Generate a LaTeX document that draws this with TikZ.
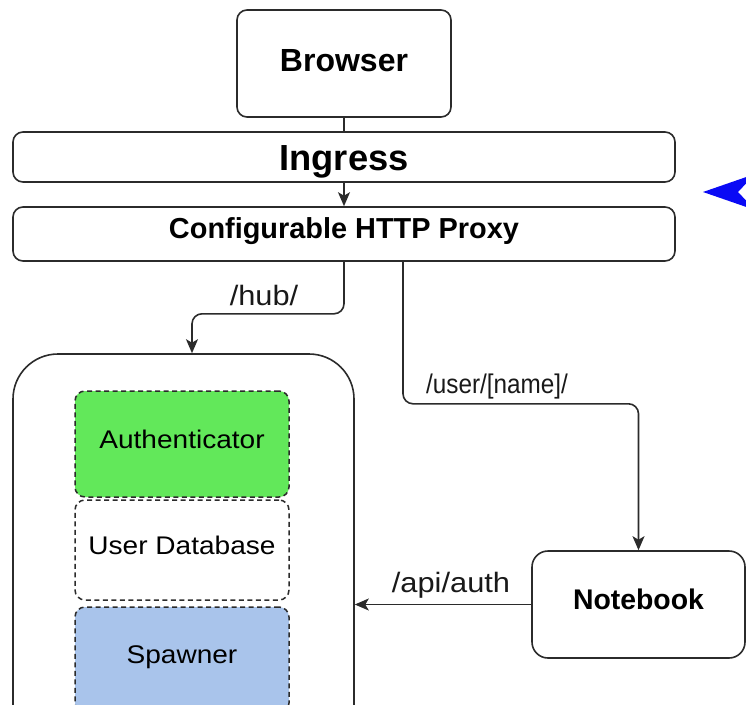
\documentclass[tikz,border=0pt]{standalone}
\usepackage{fontspec}
\setmainfont{Liberation Sans}[FakeStretch=1.1]
\newfontfamily\boldsans{Liberation Sans}[FakeStretch=1.0]
\newfontfamily\labelsans{Liberation Sans}[FakeStretch=0.9]
\usetikzlibrary{arrows.meta,calc}
\definecolor{authgreen}{HTML}{62E85A}
\definecolor{spawnblue}{HTML}{A9C4EB}
\definecolor{edgegray}{HTML}{2B2B2B}
\definecolor{arrowblue}{HTML}{0A0AF5}
\tikzset{
  box/.style={draw=edgegray, line width=1.6pt, rounded corners=10pt, align=center, inner sep=0pt},
  bigtext/.style={font=\boldsans\bfseries\fontsize{#1}{#1}\selectfont},
  inner/.style={draw=edgegray, line width=1.5pt, dash pattern=on 5pt off 3.5pt, rounded corners=10pt,
     minimum width=214pt, align=center, inner sep=0pt, font=\fontsize{25.5}{30}\selectfont,
     text height=18.3pt},
  conn/.style={draw=edgegray, line width=1.6pt, rounded corners=10pt},
  arr/.style={-{Stealth[length=14pt,width=12pt,inset=3.5pt]}},
  lbl/.style={inner sep=0pt, anchor=base, font=\fontsize{28}{33}\selectfont, text=black!90},
}
\begin{document}
\begin{tikzpicture}[x=1pt,y=-1pt]
\useasboundingbox (0,0) rectangle (746,704);
\clip (0,0) rectangle (746,704);
% nodes
\node[box, minimum width=214pt, minimum height=107pt, bigtext=32, text height=22.9pt, text depth=7pt] (browser) at (344,63.5) {Browser};
\node[box, minimum width=662pt, minimum height=50pt, bigtext=36.3, text height=26pt, text depth=0pt] (ingress) at (344,157) {Ingress};
\node[box, minimum width=662pt, minimum height=54pt, bigtext=28.9, text height=20.7pt, text depth=12pt] (proxy) at (344,234) {Configurable HTTP Proxy};
\node[box, rounded corners=45pt, minimum width=341pt, minimum height=420pt] (hub) at (183.5,564) {};
\node[inner, fill=authgreen, minimum height=106pt, text depth=10pt] (auth) at (182,444) {Authenticator};
\node[inner, fill=white, minimum height=100pt, text depth=10pt] (userdb) at (182,550) {User Database};
\node[inner, fill=spawnblue, minimum height=106pt, text depth=12pt] (spawner) at (182,660) {Spawner};
\node[box, rounded corners=16pt, minimum width=213pt, minimum height=107pt, bigtext=28.4, text height=20.3pt, text depth=10pt] (notebook) at (638.5,604.5) {Notebook};
% helper coordinates
\coordinate (hubx) at (192,0);
\coordinate (userx) at (403,0);
% connectors
\draw[conn] (browser.south) -- (ingress.north);
\draw[conn, arr] (ingress.south) -- (proxy.north);
\draw[conn, arr] (proxy.south) -- ++(0,52) -| (hub.north -| hubx);
\draw[conn, arr] (proxy.south -| userx) -- ++(0,142) -| (notebook.north);
\draw[conn, arr] (notebook.west) -- (notebook.west -| hub.east);
% labels
\node[lbl] (lhub) at (264,305) {/hub/};
\node[lbl, font=\labelsans\fontsize{27}{31}\selectfont] (luser) at (497,393) {/user/[name]/};
\node[lbl] (lapi) at (451,592) {/api/auth};
% blue arrow (head only visible)
\coordinate (btip) at (703,192);
\coordinate (bup) at (755,174);
\coordinate (bnotch) at (738,192);
\coordinate (blow) at (755,210);
\fill[arrowblue] (btip) -- (bup) -- (bnotch) -- (blow) -- cycle;
\end{tikzpicture}
\end{document}
